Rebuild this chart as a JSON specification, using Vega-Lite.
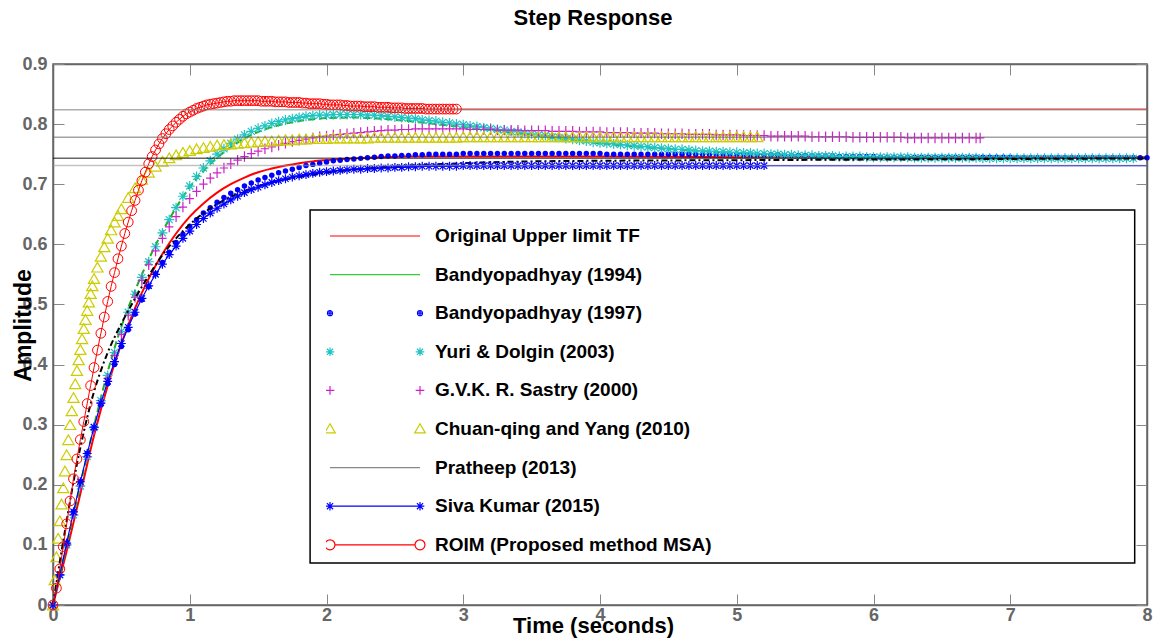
{
"$schema":"https://vega.github.io/schema/vega-lite/v6.json",
"width":1094,"height":541,
"autosize":"none",
"padding":{"left":53,"top":64,"right":18,"bottom":39},
"background":"white",
"config":{"font":"Liberation Sans","view":{"stroke":"#666","strokeWidth":1.5}},
"title":{"text":"Step Response","fontSize":22,"font":"Liberation Sans","fontWeight":"bold","color":"black","anchor":"middle","offset":8,"baseline":"alphabetic","frame":"group","dx":-7},
"resolve":{"axis":{"x":"independent","y":"independent"}},
"datasets":{
"ss":[{"k":"a","y":0.824},{"k":"b","y":0.778},{"k":"c","y":0.743},{"k":"d","y":0.731}],
"curves":[
{"s":"O","t":0,"y":0},{"s":"O","t":0.1,"y":0.09},{"s":"O","t":0.2,"y":0.185},{"s":"O","t":0.3,"y":0.282},{"s":"O","t":0.4,"y":0.365},{"s":"O","t":0.5,"y":0.435},{"s":"O","t":0.6,"y":0.494},{"s":"O","t":0.7,"y":0.543},{"s":"O","t":0.8,"y":0.584},{"s":"O","t":0.9,"y":0.618},{"s":"O","t":1.0,"y":0.646},{"s":"O","t":1.1,"y":0.668},{"s":"O","t":1.2,"y":0.686},{"s":"O","t":1.3,"y":0.7},{"s":"O","t":1.4,"y":0.711},{"s":"O","t":1.5,"y":0.72},{"s":"O","t":1.6,"y":0.726},{"s":"O","t":1.7,"y":0.731},{"s":"O","t":1.8,"y":0.735},{"s":"O","t":1.9,"y":0.738},{"s":"O","t":2.0,"y":0.74},{"s":"O","t":2.2,"y":0.743},{"s":"O","t":2.4,"y":0.745},{"s":"O","t":2.6,"y":0.746},{"s":"O","t":2.8,"y":0.746},{"s":"O","t":3,"y":0.746},{"s":"O","t":4,"y":0.746},{"s":"O","t":5,"y":0.745},{"s":"O","t":6,"y":0.745},{"s":"O","t":7,"y":0.745},{"s":"O","t":8,"y":0.745},
{"s":"G","t":0,"y":0},{"s":"G","t":0.1,"y":0.1},{"s":"G","t":0.2,"y":0.2},{"s":"G","t":0.3,"y":0.298},{"s":"G","t":0.4,"y":0.388},{"s":"G","t":0.5,"y":0.463},{"s":"G","t":0.6,"y":0.523},{"s":"G","t":0.7,"y":0.575},{"s":"G","t":0.8,"y":0.621},{"s":"G","t":0.9,"y":0.661},{"s":"G","t":1.0,"y":0.695},{"s":"G","t":1.1,"y":0.722},{"s":"G","t":1.2,"y":0.744},{"s":"G","t":1.3,"y":0.762},{"s":"G","t":1.4,"y":0.776},{"s":"G","t":1.5,"y":0.787},{"s":"G","t":1.6,"y":0.795},{"s":"G","t":1.7,"y":0.801},{"s":"G","t":1.8,"y":0.805},{"s":"G","t":1.9,"y":0.808},{"s":"G","t":2.0,"y":0.81},{"s":"G","t":2.2,"y":0.811},{"s":"G","t":2.4,"y":0.809},{"s":"G","t":2.6,"y":0.805},{"s":"G","t":2.8,"y":0.8},{"s":"G","t":3.0,"y":0.795},{"s":"G","t":3.2,"y":0.79},{"s":"G","t":3.4,"y":0.785},{"s":"G","t":3.6,"y":0.779},{"s":"G","t":3.8,"y":0.773},{"s":"G","t":4.0,"y":0.768},{"s":"G","t":4.3,"y":0.762},{"s":"G","t":4.6,"y":0.757},{"s":"G","t":5.0,"y":0.752},{"s":"G","t":5.5,"y":0.748},{"s":"G","t":6.0,"y":0.745},{"s":"G","t":6.5,"y":0.744},{"s":"G","t":7.0,"y":0.743},{"s":"G","t":8.0,"y":0.743},
{"s":"B","t":0,"y":0},{"s":"B","t":0.05,"y":0.05},{"s":"B","t":0.1,"y":0.103},{"s":"B","t":0.15,"y":0.155},{"s":"B","t":0.2,"y":0.205},{"s":"B","t":0.25,"y":0.252},{"s":"B","t":0.3,"y":0.295},{"s":"B","t":0.35,"y":0.333},{"s":"B","t":0.4,"y":0.368},{"s":"B","t":0.45,"y":0.4},{"s":"B","t":0.5,"y":0.43},{"s":"B","t":0.55,"y":0.458},{"s":"B","t":0.6,"y":0.484},{"s":"B","t":0.65,"y":0.508},{"s":"B","t":0.7,"y":0.53},{"s":"B","t":0.75,"y":0.551},{"s":"B","t":0.8,"y":0.57},{"s":"B","t":0.85,"y":0.587},{"s":"B","t":0.9,"y":0.603},{"s":"B","t":0.95,"y":0.617},
{"s":"B","t":1.0,"y":0.63},{"s":"B","t":1.05,"y":0.641},{"s":"B","t":1.1,"y":0.652},{"s":"B","t":1.15,"y":0.661},{"s":"B","t":1.2,"y":0.67},{"s":"B","t":1.25,"y":0.678},{"s":"B","t":1.3,"y":0.685},{"s":"B","t":1.35,"y":0.691},{"s":"B","t":1.4,"y":0.697},{"s":"B","t":1.45,"y":0.702},{"s":"B","t":1.5,"y":0.707},{"s":"B","t":1.55,"y":0.711},{"s":"B","t":1.6,"y":0.715},{"s":"B","t":1.65,"y":0.719},{"s":"B","t":1.7,"y":0.722},{"s":"B","t":1.75,"y":0.725},{"s":"B","t":1.8,"y":0.728},{"s":"B","t":1.85,"y":0.731},{"s":"B","t":1.9,"y":0.733},{"s":"B","t":1.95,"y":0.735},{"s":"B","t":2.0,"y":0.737},{"s":"B","t":2.05,"y":0.739},{"s":"B","t":2.1,"y":0.74},{"s":"B","t":2.15,"y":0.741},{"s":"B","t":2.2,"y":0.742},{"s":"B","t":2.25,"y":0.743},{"s":"B","t":2.3,"y":0.744},{"s":"B","t":2.35,"y":0.745},{"s":"B","t":2.4,"y":0.746},{"s":"B","t":2.45,"y":0.747},{"s":"B","t":2.5,"y":0.747},{"s":"B","t":2.55,"y":0.748},{"s":"B","t":2.6,"y":0.748},{"s":"B","t":2.65,"y":0.749},{"s":"B","t":2.7,"y":0.749},{"s":"B","t":2.75,"y":0.75},{"s":"B","t":2.8,"y":0.75},{"s":"B","t":2.85,"y":0.75},{"s":"B","t":2.9,"y":0.75},{"s":"B","t":2.95,"y":0.75},
{"s":"B","t":3.0,"y":0.751},{"s":"B","t":3.05,"y":0.751},{"s":"B","t":3.1,"y":0.751},{"s":"B","t":3.15,"y":0.751},{"s":"B","t":3.2,"y":0.751},{"s":"B","t":3.25,"y":0.751},{"s":"B","t":3.3,"y":0.751},{"s":"B","t":3.35,"y":0.751},{"s":"B","t":3.4,"y":0.751},{"s":"B","t":3.45,"y":0.751},{"s":"B","t":3.5,"y":0.751},{"s":"B","t":3.55,"y":0.751},{"s":"B","t":3.6,"y":0.751},{"s":"B","t":3.65,"y":0.751},{"s":"B","t":3.7,"y":0.751},{"s":"B","t":3.75,"y":0.751},{"s":"B","t":3.8,"y":0.751},{"s":"B","t":3.85,"y":0.751},{"s":"B","t":3.9,"y":0.751},{"s":"B","t":3.95,"y":0.751},{"s":"B","t":4.0,"y":0.751},
{"s":"B","t":4.05,"y":0.75},{"s":"B","t":4.1,"y":0.75},{"s":"B","t":4.15,"y":0.75},{"s":"B","t":4.2,"y":0.75},{"s":"B","t":4.25,"y":0.75},{"s":"B","t":4.3,"y":0.75},{"s":"B","t":4.35,"y":0.75},{"s":"B","t":4.4,"y":0.75},{"s":"B","t":4.45,"y":0.75},{"s":"B","t":4.5,"y":0.75},{"s":"B","t":4.55,"y":0.75},{"s":"B","t":4.6,"y":0.75},{"s":"B","t":4.65,"y":0.75},{"s":"B","t":4.7,"y":0.75},{"s":"B","t":4.75,"y":0.75},{"s":"B","t":4.8,"y":0.75},{"s":"B","t":4.85,"y":0.75},{"s":"B","t":4.9,"y":0.75},{"s":"B","t":4.95,"y":0.75},{"s":"B","t":5.0,"y":0.75},
{"s":"B","t":5.05,"y":0.749},{"s":"B","t":5.1,"y":0.749},{"s":"B","t":5.15,"y":0.749},{"s":"B","t":5.2,"y":0.749},{"s":"B","t":5.25,"y":0.749},{"s":"B","t":5.3,"y":0.749},{"s":"B","t":5.35,"y":0.748},{"s":"B","t":5.4,"y":0.748},{"s":"B","t":5.45,"y":0.748},{"s":"B","t":5.5,"y":0.748},{"s":"B","t":5.55,"y":0.747},{"s":"B","t":5.6,"y":0.747},{"s":"B","t":5.65,"y":0.747},{"s":"B","t":5.7,"y":0.747},{"s":"B","t":5.75,"y":0.746},{"s":"B","t":5.8,"y":0.746},{"s":"B","t":5.85,"y":0.746},{"s":"B","t":5.9,"y":0.746},{"s":"B","t":5.95,"y":0.746},{"s":"B","t":6.0,"y":0.746},
{"s":"B","t":6.05,"y":0.745},{"s":"B","t":6.1,"y":0.745},{"s":"B","t":6.15,"y":0.745},{"s":"B","t":6.2,"y":0.745},{"s":"B","t":6.25,"y":0.745},{"s":"B","t":6.3,"y":0.745},{"s":"B","t":6.35,"y":0.745},{"s":"B","t":6.4,"y":0.745},{"s":"B","t":6.45,"y":0.745},{"s":"B","t":6.5,"y":0.745},{"s":"B","t":6.55,"y":0.745},{"s":"B","t":6.6,"y":0.745},{"s":"B","t":6.65,"y":0.745},{"s":"B","t":6.7,"y":0.745},{"s":"B","t":6.75,"y":0.745},{"s":"B","t":6.8,"y":0.745},{"s":"B","t":6.85,"y":0.745},{"s":"B","t":6.9,"y":0.745},{"s":"B","t":6.95,"y":0.745},{"s":"B","t":7.0,"y":0.745},
{"s":"B","t":7.05,"y":0.744},{"s":"B","t":7.1,"y":0.744},{"s":"B","t":7.15,"y":0.744},{"s":"B","t":7.2,"y":0.744},{"s":"B","t":7.25,"y":0.744},{"s":"B","t":7.3,"y":0.744},{"s":"B","t":7.35,"y":0.744},{"s":"B","t":7.4,"y":0.744},{"s":"B","t":7.45,"y":0.744},{"s":"B","t":7.5,"y":0.744},{"s":"B","t":7.55,"y":0.744},{"s":"B","t":7.6,"y":0.744},{"s":"B","t":7.65,"y":0.744},{"s":"B","t":7.7,"y":0.744},{"s":"B","t":7.75,"y":0.744},{"s":"B","t":7.8,"y":0.744},{"s":"B","t":7.85,"y":0.744},{"s":"B","t":7.9,"y":0.744},{"s":"B","t":7.95,"y":0.744},{"s":"B","t":8.0,"y":0.744},
{"s":"Y","t":0,"y":0},{"s":"Y","t":0.05,"y":0.05},{"s":"Y","t":0.1,"y":0.1},{"s":"Y","t":0.15,"y":0.15},{"s":"Y","t":0.2,"y":0.198},{"s":"Y","t":0.25,"y":0.247},{"s":"Y","t":0.3,"y":0.295},{"s":"Y","t":0.35,"y":0.34},{"s":"Y","t":0.4,"y":0.382},{"s":"Y","t":0.45,"y":0.42},{"s":"Y","t":0.5,"y":0.455},{"s":"Y","t":0.55,"y":0.487},{"s":"Y","t":0.6,"y":0.517},{"s":"Y","t":0.65,"y":0.545},{"s":"Y","t":0.7,"y":0.571},{"s":"Y","t":0.75,"y":0.596},{"s":"Y","t":0.8,"y":0.619},{"s":"Y","t":0.85,"y":0.641},{"s":"Y","t":0.9,"y":0.661},{"s":"Y","t":0.95,"y":0.68},
{"s":"Y","t":1.0,"y":0.697},{"s":"Y","t":1.05,"y":0.713},{"s":"Y","t":1.1,"y":0.727},{"s":"Y","t":1.15,"y":0.739},{"s":"Y","t":1.2,"y":0.75},{"s":"Y","t":1.25,"y":0.759},{"s":"Y","t":1.3,"y":0.768},{"s":"Y","t":1.35,"y":0.775},{"s":"Y","t":1.4,"y":0.782},{"s":"Y","t":1.45,"y":0.788},{"s":"Y","t":1.5,"y":0.793},{"s":"Y","t":1.55,"y":0.797},{"s":"Y","t":1.6,"y":0.801},{"s":"Y","t":1.65,"y":0.804},{"s":"Y","t":1.7,"y":0.807},{"s":"Y","t":1.75,"y":0.809},{"s":"Y","t":1.8,"y":0.811},{"s":"Y","t":1.85,"y":0.813},{"s":"Y","t":1.9,"y":0.814},{"s":"Y","t":1.95,"y":0.815},
{"s":"Y","t":2.0,"y":0.815},{"s":"Y","t":2.05,"y":0.816},{"s":"Y","t":2.1,"y":0.816},{"s":"Y","t":2.15,"y":0.816},{"s":"Y","t":2.2,"y":0.816},{"s":"Y","t":2.25,"y":0.816},{"s":"Y","t":2.3,"y":0.815},{"s":"Y","t":2.35,"y":0.815},{"s":"Y","t":2.4,"y":0.814},{"s":"Y","t":2.45,"y":0.813},{"s":"Y","t":2.5,"y":0.812},{"s":"Y","t":2.55,"y":0.811},{"s":"Y","t":2.6,"y":0.81},{"s":"Y","t":2.65,"y":0.809},{"s":"Y","t":2.7,"y":0.807},{"s":"Y","t":2.75,"y":0.806},{"s":"Y","t":2.8,"y":0.805},{"s":"Y","t":2.85,"y":0.803},{"s":"Y","t":2.9,"y":0.802},{"s":"Y","t":2.95,"y":0.8},
{"s":"Y","t":3.0,"y":0.799},{"s":"Y","t":3.05,"y":0.797},{"s":"Y","t":3.1,"y":0.796},{"s":"Y","t":3.15,"y":0.794},{"s":"Y","t":3.2,"y":0.793},{"s":"Y","t":3.25,"y":0.791},{"s":"Y","t":3.3,"y":0.79},{"s":"Y","t":3.35,"y":0.788},{"s":"Y","t":3.4,"y":0.787},{"s":"Y","t":3.45,"y":0.785},{"s":"Y","t":3.5,"y":0.784},{"s":"Y","t":3.55,"y":0.782},{"s":"Y","t":3.6,"y":0.781},{"s":"Y","t":3.65,"y":0.779},{"s":"Y","t":3.7,"y":0.778},{"s":"Y","t":3.75,"y":0.776},{"s":"Y","t":3.8,"y":0.775},{"s":"Y","t":3.85,"y":0.773},{"s":"Y","t":3.9,"y":0.772},{"s":"Y","t":3.95,"y":0.77},
{"s":"Y","t":4.0,"y":0.769},{"s":"Y","t":4.05,"y":0.768},{"s":"Y","t":4.1,"y":0.767},{"s":"Y","t":4.15,"y":0.766},{"s":"Y","t":4.2,"y":0.765},{"s":"Y","t":4.25,"y":0.764},{"s":"Y","t":4.3,"y":0.763},{"s":"Y","t":4.35,"y":0.762},{"s":"Y","t":4.4,"y":0.761},{"s":"Y","t":4.45,"y":0.76},{"s":"Y","t":4.5,"y":0.759},{"s":"Y","t":4.55,"y":0.758},{"s":"Y","t":4.6,"y":0.758},{"s":"Y","t":4.65,"y":0.757},{"s":"Y","t":4.7,"y":0.756},{"s":"Y","t":4.75,"y":0.755},{"s":"Y","t":4.8,"y":0.755},{"s":"Y","t":4.85,"y":0.754},{"s":"Y","t":4.9,"y":0.754},{"s":"Y","t":4.95,"y":0.753},
{"s":"Y","t":5.0,"y":0.753},{"s":"Y","t":5.05,"y":0.752},{"s":"Y","t":5.1,"y":0.752},{"s":"Y","t":5.15,"y":0.751},{"s":"Y","t":5.2,"y":0.751},{"s":"Y","t":5.25,"y":0.75},{"s":"Y","t":5.3,"y":0.75},{"s":"Y","t":5.35,"y":0.749},{"s":"Y","t":5.4,"y":0.749},{"s":"Y","t":5.45,"y":0.748},{"s":"Y","t":5.5,"y":0.748},{"s":"Y","t":5.55,"y":0.748},{"s":"Y","t":5.6,"y":0.747},{"s":"Y","t":5.65,"y":0.747},{"s":"Y","t":5.7,"y":0.747},{"s":"Y","t":5.75,"y":0.746},{"s":"Y","t":5.8,"y":0.746},{"s":"Y","t":5.85,"y":0.746},{"s":"Y","t":5.9,"y":0.746},{"s":"Y","t":5.95,"y":0.745},
{"s":"Y","t":6.0,"y":0.745},{"s":"Y","t":6.05,"y":0.745},{"s":"Y","t":6.1,"y":0.745},{"s":"Y","t":6.15,"y":0.745},{"s":"Y","t":6.2,"y":0.745},{"s":"Y","t":6.25,"y":0.745},{"s":"Y","t":6.3,"y":0.744},{"s":"Y","t":6.35,"y":0.744},{"s":"Y","t":6.4,"y":0.744},{"s":"Y","t":6.45,"y":0.744},{"s":"Y","t":6.5,"y":0.744},{"s":"Y","t":6.55,"y":0.744},{"s":"Y","t":6.6,"y":0.744},{"s":"Y","t":6.65,"y":0.744},{"s":"Y","t":6.7,"y":0.744},{"s":"Y","t":6.75,"y":0.744},{"s":"Y","t":6.8,"y":0.743},{"s":"Y","t":6.85,"y":0.743},{"s":"Y","t":6.9,"y":0.743},{"s":"Y","t":6.95,"y":0.743},
{"s":"Y","t":7.0,"y":0.743},{"s":"Y","t":7.05,"y":0.743},{"s":"Y","t":7.1,"y":0.743},{"s":"Y","t":7.15,"y":0.743},{"s":"Y","t":7.2,"y":0.743},{"s":"Y","t":7.25,"y":0.743},{"s":"Y","t":7.3,"y":0.743},{"s":"Y","t":7.35,"y":0.743},{"s":"Y","t":7.4,"y":0.743},{"s":"Y","t":7.45,"y":0.743},{"s":"Y","t":7.5,"y":0.743},{"s":"Y","t":7.55,"y":0.743},{"s":"Y","t":7.6,"y":0.743},{"s":"Y","t":7.65,"y":0.743},{"s":"Y","t":7.7,"y":0.743},{"s":"Y","t":7.75,"y":0.743},{"s":"Y","t":7.8,"y":0.743},{"s":"Y","t":7.85,"y":0.743},{"s":"Y","t":7.9,"y":0.743},
{"s":"S","t":0,"y":0},{"s":"S","t":0.05,"y":0.05},{"s":"S","t":0.1,"y":0.1},{"s":"S","t":0.15,"y":0.15},{"s":"S","t":0.2,"y":0.198},{"s":"S","t":0.25,"y":0.246},{"s":"S","t":0.3,"y":0.292},{"s":"S","t":0.35,"y":0.336},{"s":"S","t":0.4,"y":0.377},{"s":"S","t":0.45,"y":0.415},{"s":"S","t":0.5,"y":0.45},{"s":"S","t":0.55,"y":0.482},{"s":"S","t":0.6,"y":0.512},{"s":"S","t":0.65,"y":0.54},{"s":"S","t":0.7,"y":0.566},{"s":"S","t":0.75,"y":0.589},{"s":"S","t":0.8,"y":0.61},{"s":"S","t":0.85,"y":0.629},{"s":"S","t":0.9,"y":0.646},{"s":"S","t":0.95,"y":0.662},
{"s":"S","t":1.0,"y":0.676},{"s":"S","t":1.05,"y":0.688},{"s":"S","t":1.1,"y":0.7},{"s":"S","t":1.15,"y":0.71},{"s":"S","t":1.2,"y":0.719},{"s":"S","t":1.25,"y":0.727},{"s":"S","t":1.3,"y":0.734},{"s":"S","t":1.35,"y":0.74},{"s":"S","t":1.4,"y":0.746},{"s":"S","t":1.45,"y":0.751},{"s":"S","t":1.5,"y":0.755},{"s":"S","t":1.55,"y":0.759},{"s":"S","t":1.6,"y":0.762},{"s":"S","t":1.65,"y":0.765},{"s":"S","t":1.7,"y":0.768},{"s":"S","t":1.75,"y":0.771},{"s":"S","t":1.8,"y":0.773},{"s":"S","t":1.85,"y":0.775},{"s":"S","t":1.9,"y":0.777},{"s":"S","t":1.95,"y":0.779},
{"s":"S","t":2.0,"y":0.78},{"s":"S","t":2.05,"y":0.782},{"s":"S","t":2.1,"y":0.783},{"s":"S","t":2.15,"y":0.784},{"s":"S","t":2.2,"y":0.785},{"s":"S","t":2.25,"y":0.786},{"s":"S","t":2.3,"y":0.787},{"s":"S","t":2.35,"y":0.788},{"s":"S","t":2.4,"y":0.789},{"s":"S","t":2.45,"y":0.79},{"s":"S","t":2.5,"y":0.79},{"s":"S","t":2.55,"y":0.791},{"s":"S","t":2.6,"y":0.791},{"s":"S","t":2.65,"y":0.792},{"s":"S","t":2.7,"y":0.792},{"s":"S","t":2.75,"y":0.792},{"s":"S","t":2.8,"y":0.792},{"s":"S","t":2.85,"y":0.792},{"s":"S","t":2.9,"y":0.792},{"s":"S","t":2.95,"y":0.792},
{"s":"S","t":3.0,"y":0.792},{"s":"S","t":3.05,"y":0.791},{"s":"S","t":3.1,"y":0.791},{"s":"S","t":3.15,"y":0.791},{"s":"S","t":3.2,"y":0.791},{"s":"S","t":3.25,"y":0.79},{"s":"S","t":3.3,"y":0.79},{"s":"S","t":3.35,"y":0.79},{"s":"S","t":3.4,"y":0.79},{"s":"S","t":3.45,"y":0.789},{"s":"S","t":3.5,"y":0.789},{"s":"S","t":3.55,"y":0.789},{"s":"S","t":3.6,"y":0.789},{"s":"S","t":3.65,"y":0.788},{"s":"S","t":3.7,"y":0.788},{"s":"S","t":3.75,"y":0.788},{"s":"S","t":3.8,"y":0.788},{"s":"S","t":3.85,"y":0.787},{"s":"S","t":3.9,"y":0.787},{"s":"S","t":3.95,"y":0.787},
{"s":"S","t":4.0,"y":0.787},{"s":"S","t":4.05,"y":0.786},{"s":"S","t":4.1,"y":0.786},{"s":"S","t":4.15,"y":0.786},{"s":"S","t":4.2,"y":0.786},{"s":"S","t":4.25,"y":0.785},{"s":"S","t":4.3,"y":0.785},{"s":"S","t":4.35,"y":0.785},{"s":"S","t":4.4,"y":0.785},{"s":"S","t":4.45,"y":0.784},{"s":"S","t":4.5,"y":0.784},{"s":"S","t":4.55,"y":0.784},{"s":"S","t":4.6,"y":0.784},{"s":"S","t":4.65,"y":0.783},{"s":"S","t":4.7,"y":0.783},{"s":"S","t":4.75,"y":0.783},{"s":"S","t":4.8,"y":0.783},{"s":"S","t":4.85,"y":0.782},{"s":"S","t":4.9,"y":0.782},{"s":"S","t":4.95,"y":0.782},
{"s":"S","t":5.0,"y":0.782},{"s":"S","t":5.05,"y":0.781},{"s":"S","t":5.1,"y":0.781},{"s":"S","t":5.15,"y":0.781},{"s":"S","t":5.2,"y":0.781},{"s":"S","t":5.25,"y":0.78},{"s":"S","t":5.3,"y":0.78},{"s":"S","t":5.35,"y":0.78},{"s":"S","t":5.4,"y":0.78},{"s":"S","t":5.45,"y":0.78},{"s":"S","t":5.5,"y":0.78},{"s":"S","t":5.55,"y":0.779},{"s":"S","t":5.6,"y":0.779},{"s":"S","t":5.65,"y":0.779},{"s":"S","t":5.7,"y":0.779},{"s":"S","t":5.75,"y":0.779},{"s":"S","t":5.8,"y":0.779},{"s":"S","t":5.85,"y":0.778},{"s":"S","t":5.9,"y":0.778},{"s":"S","t":5.95,"y":0.778},
{"s":"S","t":6.0,"y":0.778},{"s":"S","t":6.05,"y":0.778},{"s":"S","t":6.1,"y":0.778},{"s":"S","t":6.15,"y":0.778},{"s":"S","t":6.2,"y":0.778},{"s":"S","t":6.25,"y":0.777},{"s":"S","t":6.3,"y":0.777},{"s":"S","t":6.35,"y":0.777},{"s":"S","t":6.4,"y":0.777},{"s":"S","t":6.45,"y":0.777},{"s":"S","t":6.5,"y":0.777},{"s":"S","t":6.55,"y":0.777},{"s":"S","t":6.6,"y":0.777},{"s":"S","t":6.65,"y":0.777},{"s":"S","t":6.7,"y":0.777},{"s":"S","t":6.75,"y":0.777},{"s":"S","t":6.78,"y":0.777},
{"s":"C","t":0,"y":0},{"s":"C","t":0.0125,"y":0.042},{"s":"C","t":0.025,"y":0.08},{"s":"C","t":0.0375,"y":0.111},{"s":"C","t":0.05,"y":0.14},{"s":"C","t":0.0625,"y":0.168},{"s":"C","t":0.075,"y":0.195},{"s":"C","t":0.0875,"y":0.223},{"s":"C","t":0.1,"y":0.25},{"s":"C","t":0.1125,"y":0.275},{"s":"C","t":0.125,"y":0.3},{"s":"C","t":0.1375,"y":0.323},{"s":"C","t":0.15,"y":0.345},{"s":"C","t":0.1625,"y":0.368},{"s":"C","t":0.175,"y":0.39},{"s":"C","t":0.1875,"y":0.408},{"s":"C","t":0.2,"y":0.425},{"s":"C","t":0.2125,"y":0.443},{"s":"C","t":0.225,"y":0.46},{"s":"C","t":0.2375,"y":0.475},{"s":"C","t":0.25,"y":0.49},{"s":"C","t":0.2625,"y":0.504},{"s":"C","t":0.275,"y":0.518},{"s":"C","t":0.2875,"y":0.531},{"s":"C","t":0.3,"y":0.543},{"s":"C","t":0.325,"y":0.562},{"s":"C","t":0.35,"y":0.58},{"s":"C","t":0.375,"y":0.596},{"s":"C","t":0.4,"y":0.61},{"s":"C","t":0.425,"y":0.624},{"s":"C","t":0.45,"y":0.637},{"s":"C","t":0.475,"y":0.648},{"s":"C","t":0.5,"y":0.659},{"s":"C","t":0.55,"y":0.678},{"s":"C","t":0.6,"y":0.694},{"s":"C","t":0.65,"y":0.708},{"s":"C","t":0.7,"y":0.72},{"s":"C","t":0.75,"y":0.73},{"s":"C","t":0.8,"y":0.738},{"s":"C","t":0.85,"y":0.744},{"s":"C","t":0.9,"y":0.749},{"s":"C","t":0.95,"y":0.753},{"s":"C","t":1.0,"y":0.756},{"s":"C","t":1.05,"y":0.759},{"s":"C","t":1.1,"y":0.761},{"s":"C","t":1.15,"y":0.763},{"s":"C","t":1.2,"y":0.765},{"s":"C","t":1.25,"y":0.766},{"s":"C","t":1.3,"y":0.767},{"s":"C","t":1.35,"y":0.768},{"s":"C","t":1.4,"y":0.769},{"s":"C","t":1.45,"y":0.77},{"s":"C","t":1.5,"y":0.771},{"s":"C","t":1.55,"y":0.772},{"s":"C","t":1.6,"y":0.772},{"s":"C","t":1.65,"y":0.773},{"s":"C","t":1.7,"y":0.774},{"s":"C","t":1.75,"y":0.774},{"s":"C","t":1.8,"y":0.775},{"s":"C","t":1.85,"y":0.775},{"s":"C","t":1.9,"y":0.776},{"s":"C","t":1.95,"y":0.776},{"s":"C","t":2.0,"y":0.776},{"s":"C","t":2.05,"y":0.777},{"s":"C","t":2.1,"y":0.777},{"s":"C","t":2.15,"y":0.777},{"s":"C","t":2.2,"y":0.777},{"s":"C","t":2.25,"y":0.777},{"s":"C","t":2.3,"y":0.777},{"s":"C","t":2.35,"y":0.778},{"s":"C","t":2.4,"y":0.778},{"s":"C","t":2.45,"y":0.778},{"s":"C","t":2.5,"y":0.778},{"s":"C","t":2.55,"y":0.778},{"s":"C","t":2.6,"y":0.778},{"s":"C","t":2.65,"y":0.778},{"s":"C","t":2.7,"y":0.778},{"s":"C","t":2.75,"y":0.778},{"s":"C","t":2.8,"y":0.778},{"s":"C","t":2.85,"y":0.778},{"s":"C","t":2.9,"y":0.778},{"s":"C","t":2.95,"y":0.778},{"s":"C","t":3.0,"y":0.779},{"s":"C","t":3.05,"y":0.779},{"s":"C","t":3.1,"y":0.779},{"s":"C","t":3.15,"y":0.779},{"s":"C","t":3.2,"y":0.779},{"s":"C","t":3.25,"y":0.779},{"s":"C","t":3.3,"y":0.779},{"s":"C","t":3.35,"y":0.779},{"s":"C","t":3.4,"y":0.779},{"s":"C","t":3.45,"y":0.779},{"s":"C","t":3.5,"y":0.779},{"s":"C","t":3.55,"y":0.779},{"s":"C","t":3.6,"y":0.779},{"s":"C","t":3.65,"y":0.779},{"s":"C","t":3.7,"y":0.779},{"s":"C","t":3.75,"y":0.779},{"s":"C","t":3.8,"y":0.779},{"s":"C","t":3.85,"y":0.779},{"s":"C","t":3.9,"y":0.779},{"s":"C","t":3.95,"y":0.779},{"s":"C","t":4.0,"y":0.779},{"s":"C","t":4.05,"y":0.779},{"s":"C","t":4.1,"y":0.779},{"s":"C","t":4.15,"y":0.779},{"s":"C","t":4.2,"y":0.779},{"s":"C","t":4.25,"y":0.779},{"s":"C","t":4.3,"y":0.779},{"s":"C","t":4.35,"y":0.779},{"s":"C","t":4.4,"y":0.779},{"s":"C","t":4.45,"y":0.779},{"s":"C","t":4.5,"y":0.779},{"s":"C","t":4.55,"y":0.779},{"s":"C","t":4.6,"y":0.779},{"s":"C","t":4.65,"y":0.779},{"s":"C","t":4.7,"y":0.779},{"s":"C","t":4.75,"y":0.779},{"s":"C","t":4.8,"y":0.779},{"s":"C","t":4.85,"y":0.779},{"s":"C","t":4.9,"y":0.779},{"s":"C","t":4.95,"y":0.779},{"s":"C","t":5.0,"y":0.779},{"s":"C","t":5.05,"y":0.779},{"s":"C","t":5.1,"y":0.779},{"s":"C","t":5.15,"y":0.779},
{"s":"P","t":0,"y":0},{"s":"P","t":0.05,"y":0.072},{"s":"P","t":0.1,"y":0.14},{"s":"P","t":0.15,"y":0.205},{"s":"P","t":0.2,"y":0.262},{"s":"P","t":0.25,"y":0.312},{"s":"P","t":0.3,"y":0.355},{"s":"P","t":0.35,"y":0.39},{"s":"P","t":0.4,"y":0.42},{"s":"P","t":0.5,"y":0.468},{"s":"P","t":0.6,"y":0.51},{"s":"P","t":0.7,"y":0.548},{"s":"P","t":0.8,"y":0.582},{"s":"P","t":0.9,"y":0.61},{"s":"P","t":1.0,"y":0.633},{"s":"P","t":1.1,"y":0.652},{"s":"P","t":1.2,"y":0.667},{"s":"P","t":1.3,"y":0.679},{"s":"P","t":1.4,"y":0.689},{"s":"P","t":1.5,"y":0.697},{"s":"P","t":1.6,"y":0.703},{"s":"P","t":1.7,"y":0.708},{"s":"P","t":1.8,"y":0.712},{"s":"P","t":2.0,"y":0.719},{"s":"P","t":2.2,"y":0.724},{"s":"P","t":2.4,"y":0.728},{"s":"P","t":2.6,"y":0.731},{"s":"P","t":2.8,"y":0.733},{"s":"P","t":3.0,"y":0.735},{"s":"P","t":3.5,"y":0.738},{"s":"P","t":4.0,"y":0.739},{"s":"P","t":5.0,"y":0.74},{"s":"P","t":6.0,"y":0.741},{"s":"P","t":7.0,"y":0.742},{"s":"P","t":8.0,"y":0.743},
{"s":"K","t":0,"y":0},{"s":"K","t":0.05,"y":0.05},{"s":"K","t":0.1,"y":0.103},{"s":"K","t":0.15,"y":0.155},{"s":"K","t":0.2,"y":0.205},{"s":"K","t":0.25,"y":0.252},{"s":"K","t":0.3,"y":0.296},{"s":"K","t":0.35,"y":0.336},{"s":"K","t":0.4,"y":0.372},{"s":"K","t":0.45,"y":0.405},{"s":"K","t":0.5,"y":0.435},{"s":"K","t":0.55,"y":0.462},{"s":"K","t":0.6,"y":0.487},{"s":"K","t":0.65,"y":0.51},{"s":"K","t":0.7,"y":0.531},{"s":"K","t":0.75,"y":0.55},{"s":"K","t":0.8,"y":0.567},{"s":"K","t":0.85,"y":0.583},{"s":"K","t":0.9,"y":0.597},{"s":"K","t":0.95,"y":0.61},
{"s":"K","t":1.0,"y":0.622},{"s":"K","t":1.05,"y":0.633},{"s":"K","t":1.1,"y":0.643},{"s":"K","t":1.15,"y":0.652},{"s":"K","t":1.2,"y":0.66},{"s":"K","t":1.25,"y":0.667},{"s":"K","t":1.3,"y":0.674},{"s":"K","t":1.35,"y":0.68},{"s":"K","t":1.4,"y":0.686},{"s":"K","t":1.45,"y":0.691},{"s":"K","t":1.5,"y":0.695},{"s":"K","t":1.55,"y":0.699},{"s":"K","t":1.6,"y":0.703},{"s":"K","t":1.65,"y":0.706},{"s":"K","t":1.7,"y":0.709},{"s":"K","t":1.75,"y":0.712},{"s":"K","t":1.8,"y":0.714},{"s":"K","t":1.85,"y":0.716},{"s":"K","t":1.9,"y":0.718},{"s":"K","t":1.95,"y":0.72},
{"s":"K","t":2.0,"y":0.721},{"s":"K","t":2.05,"y":0.722},{"s":"K","t":2.1,"y":0.723},{"s":"K","t":2.15,"y":0.724},{"s":"K","t":2.2,"y":0.725},{"s":"K","t":2.25,"y":0.725},{"s":"K","t":2.3,"y":0.726},{"s":"K","t":2.35,"y":0.726},{"s":"K","t":2.4,"y":0.727},{"s":"K","t":2.45,"y":0.727},{"s":"K","t":2.5,"y":0.728},{"s":"K","t":2.55,"y":0.728},{"s":"K","t":2.6,"y":0.729},{"s":"K","t":2.65,"y":0.729},{"s":"K","t":2.7,"y":0.73},{"s":"K","t":2.75,"y":0.73},{"s":"K","t":2.8,"y":0.73},{"s":"K","t":2.85,"y":0.73},{"s":"K","t":2.9,"y":0.73},{"s":"K","t":2.95,"y":0.73},
{"s":"K","t":3.0,"y":0.731},{"s":"K","t":3.05,"y":0.731},{"s":"K","t":3.1,"y":0.731},{"s":"K","t":3.15,"y":0.731},{"s":"K","t":3.2,"y":0.731},{"s":"K","t":3.25,"y":0.731},{"s":"K","t":3.3,"y":0.731},{"s":"K","t":3.35,"y":0.731},{"s":"K","t":3.4,"y":0.731},{"s":"K","t":3.45,"y":0.731},{"s":"K","t":3.5,"y":0.731},{"s":"K","t":3.55,"y":0.731},{"s":"K","t":3.6,"y":0.731},{"s":"K","t":3.65,"y":0.731},{"s":"K","t":3.7,"y":0.731},{"s":"K","t":3.75,"y":0.731},{"s":"K","t":3.8,"y":0.731},{"s":"K","t":3.85,"y":0.731},{"s":"K","t":3.9,"y":0.731},{"s":"K","t":3.95,"y":0.731},
{"s":"K","t":4.0,"y":0.731},{"s":"K","t":4.05,"y":0.731},{"s":"K","t":4.1,"y":0.731},{"s":"K","t":4.15,"y":0.731},{"s":"K","t":4.2,"y":0.731},{"s":"K","t":4.25,"y":0.731},{"s":"K","t":4.3,"y":0.731},{"s":"K","t":4.35,"y":0.731},{"s":"K","t":4.4,"y":0.731},{"s":"K","t":4.45,"y":0.731},{"s":"K","t":4.5,"y":0.731},{"s":"K","t":4.55,"y":0.731},{"s":"K","t":4.6,"y":0.731},{"s":"K","t":4.65,"y":0.731},{"s":"K","t":4.7,"y":0.731},{"s":"K","t":4.75,"y":0.731},{"s":"K","t":4.8,"y":0.731},{"s":"K","t":4.85,"y":0.731},{"s":"K","t":4.9,"y":0.731},{"s":"K","t":4.95,"y":0.731},
{"s":"K","t":5.0,"y":0.731},{"s":"K","t":5.05,"y":0.731},{"s":"K","t":5.1,"y":0.731},{"s":"K","t":5.15,"y":0.731},{"s":"K","t":5.2,"y":0.731},{"s":"K","t":8.0,"y":0.731},
{"s":"R","t":0,"y":0},{"s":"R","t":0.025,"y":0.028},{"s":"R","t":0.05,"y":0.06},{"s":"R","t":0.075,"y":0.097},{"s":"R","t":0.1,"y":0.135},{"s":"R","t":0.125,"y":0.173},{"s":"R","t":0.15,"y":0.21},{"s":"R","t":0.175,"y":0.243},{"s":"R","t":0.2,"y":0.275},{"s":"R","t":0.225,"y":0.305},{"s":"R","t":0.25,"y":0.335},{"s":"R","t":0.275,"y":0.365},{"s":"R","t":0.3,"y":0.395},{"s":"R","t":0.325,"y":0.424},{"s":"R","t":0.35,"y":0.452},{"s":"R","t":0.375,"y":0.479},{"s":"R","t":0.4,"y":0.505},{"s":"R","t":0.425,"y":0.53},{"s":"R","t":0.45,"y":0.553},{"s":"R","t":0.475,"y":0.576},
{"s":"R","t":0.5,"y":0.597},{"s":"R","t":0.525,"y":0.618},{"s":"R","t":0.55,"y":0.637},{"s":"R","t":0.575,"y":0.656},{"s":"R","t":0.6,"y":0.673},{"s":"R","t":0.625,"y":0.69},{"s":"R","t":0.65,"y":0.706},{"s":"R","t":0.675,"y":0.72},{"s":"R","t":0.7,"y":0.734},{"s":"R","t":0.725,"y":0.746},{"s":"R","t":0.75,"y":0.757},{"s":"R","t":0.775,"y":0.767},{"s":"R","t":0.8,"y":0.776},{"s":"R","t":0.825,"y":0.784},{"s":"R","t":0.85,"y":0.791},{"s":"R","t":0.875,"y":0.797},{"s":"R","t":0.9,"y":0.803},{"s":"R","t":0.925,"y":0.808},{"s":"R","t":0.95,"y":0.813},{"s":"R","t":0.975,"y":0.817},
{"s":"R","t":1.0,"y":0.82},{"s":"R","t":1.025,"y":0.823},{"s":"R","t":1.05,"y":0.826},{"s":"R","t":1.075,"y":0.828},{"s":"R","t":1.1,"y":0.83},{"s":"R","t":1.125,"y":0.832},{"s":"R","t":1.15,"y":0.833},{"s":"R","t":1.175,"y":0.834},{"s":"R","t":1.2,"y":0.835},{"s":"R","t":1.225,"y":0.836},{"s":"R","t":1.25,"y":0.837},{"s":"R","t":1.275,"y":0.838},{"s":"R","t":1.3,"y":0.838},{"s":"R","t":1.325,"y":0.839},{"s":"R","t":1.35,"y":0.839},{"s":"R","t":1.375,"y":0.839},{"s":"R","t":1.4,"y":0.839},{"s":"R","t":1.425,"y":0.839},{"s":"R","t":1.45,"y":0.839},{"s":"R","t":1.475,"y":0.839},
{"s":"R","t":1.5,"y":0.839},{"s":"R","t":1.525,"y":0.838},{"s":"R","t":1.55,"y":0.838},{"s":"R","t":1.575,"y":0.838},{"s":"R","t":1.6,"y":0.838},{"s":"R","t":1.625,"y":0.837},{"s":"R","t":1.65,"y":0.837},{"s":"R","t":1.675,"y":0.837},{"s":"R","t":1.7,"y":0.837},{"s":"R","t":1.725,"y":0.836},{"s":"R","t":1.75,"y":0.836},{"s":"R","t":1.775,"y":0.836},{"s":"R","t":1.8,"y":0.836},{"s":"R","t":1.825,"y":0.835},{"s":"R","t":1.85,"y":0.835},{"s":"R","t":1.875,"y":0.834},{"s":"R","t":1.9,"y":0.834},{"s":"R","t":1.925,"y":0.834},{"s":"R","t":1.95,"y":0.834},{"s":"R","t":1.975,"y":0.833},
{"s":"R","t":2.0,"y":0.833},{"s":"R","t":2.025,"y":0.832},{"s":"R","t":2.05,"y":0.832},{"s":"R","t":2.075,"y":0.832},{"s":"R","t":2.1,"y":0.832},{"s":"R","t":2.125,"y":0.831},{"s":"R","t":2.15,"y":0.831},{"s":"R","t":2.175,"y":0.83},{"s":"R","t":2.2,"y":0.83},{"s":"R","t":2.225,"y":0.83},{"s":"R","t":2.25,"y":0.83},{"s":"R","t":2.275,"y":0.829},{"s":"R","t":2.3,"y":0.829},{"s":"R","t":2.325,"y":0.829},{"s":"R","t":2.35,"y":0.829},{"s":"R","t":2.375,"y":0.828},{"s":"R","t":2.4,"y":0.828},{"s":"R","t":2.425,"y":0.828},{"s":"R","t":2.45,"y":0.828},{"s":"R","t":2.475,"y":0.827},
{"s":"R","t":2.5,"y":0.827},{"s":"R","t":2.525,"y":0.827},{"s":"R","t":2.55,"y":0.827},{"s":"R","t":2.575,"y":0.826},{"s":"R","t":2.6,"y":0.826},{"s":"R","t":2.625,"y":0.826},{"s":"R","t":2.65,"y":0.826},{"s":"R","t":2.675,"y":0.826},{"s":"R","t":2.7,"y":0.826},{"s":"R","t":2.725,"y":0.825},{"s":"R","t":2.75,"y":0.825},{"s":"R","t":2.775,"y":0.825},{"s":"R","t":2.8,"y":0.825},{"s":"R","t":2.825,"y":0.825},{"s":"R","t":2.85,"y":0.825},{"s":"R","t":2.875,"y":0.825},{"s":"R","t":2.9,"y":0.825},{"s":"R","t":2.925,"y":0.825},{"s":"R","t":2.95,"y":0.825},{"s":"R","t":8.0,"y":0.825}
]},
"layer":[
{"data":{"name":"curves"},"transform":[{"filter":"datum.s=='O'"}],
 "mark":{"type":"line","color":"#ff0000","strokeWidth":2,"interpolate":"monotone"},
 "encoding":{
  "x":{"field":"t","type":"quantitative","scale":{"domain":[0,8],"nice":false,"zero":false},
   "axis":{"orient":"bottom","values":[0,1,2,3,4,5,6,7,8],"format":"d","grid":false,"title":"Time (seconds)","titleFont":"Liberation Sans","titleFontSize":22,"titleFontWeight":"bold","titleColor":"black","titleX":540,"titleY":27,"titleBaseline":"alphabetic","labelFont":"Liberation Sans","labelFontSize":18,"labelFontWeight":"bold","labelColor":"#666","labelFlush":false,"labelOverlap":false,"tickSize":-11,"tickColor":"#888","tickWidth":1,"labelPadding":12,"domainColor":"#666","domainWidth":1.5}},
  "y":{"field":"y","type":"quantitative","scale":{"domain":[0,0.9],"nice":false,"zero":false},
   "axis":{"orient":"left","values":[0,0.1,0.2,0.3,0.4,0.5,0.6,0.7,0.8,0.9],"format":".1~f","grid":false,"title":"Amplitude","titleFont":"Liberation Sans","titleFontSize":23,"titleFontWeight":"bold","titleColor":"black","titleX":-23,"titleY":261,"titleAngle":270,"titleBaseline":"alphabetic","labelFont":"Liberation Sans","labelFontSize":18,"labelFontWeight":"bold","labelColor":"#666","labelFlush":false,"labelOverlap":false,"tickSize":-11,"tickColor":"#888","tickWidth":1,"labelPadding":17,"domainColor":"#666","domainWidth":1.5}}}},
{"data":{"name":"curves"},"transform":[{"filter":"datum.s=='G'"}],
 "mark":{"type":"line","color":"#22aa22","strokeWidth":2,"strokeDash":[7,4],"interpolate":"monotone"},
 "encoding":{
  "x":{"field":"t","type":"quantitative","axis":{"orient":"top","values":[0,1,2,3,4,5,6,7,8],"labels":false,"title":null,"grid":false,"tickSize":-11,"tickColor":"#888","domainColor":"#666","domainWidth":1.5}},
  "y":{"field":"y","type":"quantitative","axis":{"orient":"right","values":[0,0.1,0.2,0.3,0.4,0.5,0.6,0.7,0.8,0.9],"labels":false,"title":null,"grid":false,"tickSize":-11,"tickColor":"#888","domainColor":"#666","domainWidth":1.5}}}},
{"data":{"name":"curves"},"transform":[{"filter":"datum.s=='B'"}],
 "mark":{"type":"point","shape":"circle","filled":true,"color":"#0000ff","size":30,"opacity":1},
 "encoding":{"x":{"field":"t","type":"quantitative","axis":null},"y":{"field":"y","type":"quantitative","axis":null}}},
{"data":{"name":"curves"},"transform":[{"filter":"datum.s=='Y'"}],
 "mark":{"type":"point","shape":"M-1,0H1M0,-1V1M-0.7,-0.7L0.7,0.7M-0.7,0.7L0.7,-0.7","filled":false,"color":"#20c4c4","size":100,"strokeWidth":1.2,"opacity":1},
 "encoding":{"x":{"field":"t","type":"quantitative","axis":null},"y":{"field":"y","type":"quantitative","axis":null}}},
{"data":{"name":"curves"},"transform":[{"filter":"datum.s=='S'"}],
 "mark":{"type":"point","shape":"M-0.8,0H0.8M0,-1V1","filled":false,"color":"#cc22cc","size":110,"strokeWidth":1.2,"opacity":1},
 "encoding":{"x":{"field":"t","type":"quantitative","axis":null},"y":{"field":"y","type":"quantitative","axis":null}}},
{"data":{"name":"curves"},"transform":[{"filter":"datum.s=='C'"}],
 "mark":{"type":"point","shape":"triangle-up","filled":false,"color":"#cccc00","size":125,"strokeWidth":1.2,"opacity":1},
 "encoding":{"x":{"field":"t","type":"quantitative","axis":null},"y":{"field":"y","type":"quantitative","axis":null}}},
{"data":{"name":"curves"},"transform":[{"filter":"datum.s=='P'"}],
 "mark":{"type":"line","color":"#000000","strokeWidth":2,"strokeDash":[6,3,2,3],"interpolate":"monotone"},
 "encoding":{"x":{"field":"t","type":"quantitative","axis":null},"y":{"field":"y","type":"quantitative","axis":null}}},
{"data":{"name":"curves"},"transform":[{"filter":"datum.s=='K'"}],
 "mark":{"type":"line","color":"#0000ff","strokeWidth":1.2},
 "encoding":{"x":{"field":"t","type":"quantitative","axis":null},"y":{"field":"y","type":"quantitative","axis":null}}},
{"data":{"name":"curves"},"transform":[{"filter":"datum.s=='K' && datum.t<=5.21"}],
 "mark":{"type":"point","shape":"M-1,0H1M0,-1V1M-0.7,-0.7L0.7,0.7M-0.7,0.7L0.7,-0.7","filled":false,"color":"#0000ff","size":80,"strokeWidth":1.2,"opacity":1},
 "encoding":{"x":{"field":"t","type":"quantitative","axis":null},"y":{"field":"y","type":"quantitative","axis":null}}},
{"data":{"name":"curves"},"transform":[{"filter":"datum.s=='R'"}],
 "mark":{"type":"line","color":"#ff0000","strokeWidth":1},
 "encoding":{"x":{"field":"t","type":"quantitative","axis":null},"y":{"field":"y","type":"quantitative","axis":null}}},
{"data":{"name":"curves"},"transform":[{"filter":"datum.s=='R' && datum.t<=2.96"}],
 "mark":{"type":"point","shape":"circle","filled":false,"color":"#ff0000","size":95,"strokeWidth":1,"opacity":1},
 "encoding":{"x":{"field":"t","type":"quantitative","axis":null},"y":{"field":"y","type":"quantitative","axis":null}}},
{"data":{"name":"ss"},
 "mark":{"type":"rule","strokeWidth":1.5,"opacity":0.6},
 "encoding":{"y":{"field":"y","type":"quantitative","axis":null},
  "stroke":{"field":"k","type":"nominal","scale":{"domain":["a","b","c","d"],"range":["#777777","#666666","#000000","#999999"]},"legend":null}}},
{"data":{"values":[{}]},
 "mark":{"type":"rect","fill":"white","stroke":"black","strokeWidth":1.5},
 "encoding":{"x":{"datum":1.88,"type":"quantitative","axis":null},"x2":{"datum":7.91},"y":{"datum":0.657,"type":"quantitative","axis":null},"y2":{"datum":0.07}}},
{"data":{"name":"curves"},"transform":[{"filter":"false"}],
 "mark":{"type":"point","filled":false,"strokeWidth":1.2,"opacity":1},
 "encoding":{"x":{"field":"t","type":"quantitative","axis":null},"y":{"field":"y","type":"quantitative","axis":null},
  "color":{"field":"s","type":"nominal",
   "scale":{"domain":["Original Upper limit TF","Bandyopadhyay (1994)","Bandyopadhyay (1997)","Yuri & Dolgin (2003)","G.V.K. R. Sastry (2000)","Chuan-qing and Yang (2010)","Pratheep (2013)","Siva Kumar (2015)","ROIM (Proposed method MSA)"],
    "range":["#ff0000","#33cc33","#0000ff","#20c4c4","#cc22cc","#cccc00","#888888","#0000ff","#ff0000"]},
   "legend":{"orient":"none","legendX":273,"legendY":162,"direction":"vertical","title":null,"labelFont":"Liberation Sans","labelFontSize":19,"labelFontWeight":"bold","labelColor":"black","labelLimit":600,"symbolSize":9216,"symbolStrokeWidth":1.2,"clipHeight":20,"rowPadding":18.6,"labelOffset":11,"padding":0,"symbolOffset":0}},
  "shape":{"field":"s","type":"nominal",
   "scale":{"domain":["Original Upper limit TF","Bandyopadhyay (1994)","Bandyopadhyay (1997)","Yuri & Dolgin (2003)","G.V.K. R. Sastry (2000)","Chuan-qing and Yang (2010)","Pratheep (2013)","Siva Kumar (2015)","ROIM (Proposed method MSA)"],
    "range":["M-0.9375,0H0.9375","M-0.9375,0H0.9375",
     "M-0.99,0A0.052,0.052,0,1,0,-0.885,0A0.052,0.052,0,1,0,-0.99,0ZM-0.99,0H-0.885M-0.9375,-0.052V0.052M0.885,0A0.052,0.052,0,1,0,0.99,0A0.052,0.052,0,1,0,0.885,0ZM0.885,0H0.99M0.9375,-0.052V0.052",
     "M-1.0275,0H-0.8475M-0.9375,-0.09V0.09M-1.0015,-0.064L-0.8735,0.064M-1.0015,0.064L-0.8735,-0.064M0.8475,0H1.0275M0.9375,-0.09V0.09M0.8735,-0.064L1.0015,0.064M0.8735,0.064L1.0015,-0.064",
     "M-1.0275,0H-0.8475M-0.9375,-0.09V0.09M0.8475,0H1.0275M0.9375,-0.09V0.09",
     "M-0.9375,-0.11L-1.0475,0.08L-0.8275,0.08ZM0.9375,-0.11L0.8275,0.08L1.0475,0.08Z",
     "M-0.9375,0H0.9375",
     "M-0.9375,0H0.9375M-1.0275,0H-0.8475M-0.9375,-0.09V0.09M-1.0015,-0.064L-0.8735,0.064M-1.0015,0.064L-0.8735,-0.064M0.8475,0H1.0275M0.9375,-0.09V0.09M0.8735,-0.064L1.0015,0.064M0.8735,0.064L1.0015,-0.064",
     "M-0.8335,0H0.8335M-1.0415,0A0.104,0.104,0,1,0,-0.8335,0A0.104,0.104,0,1,0,-1.0415,0M0.8335,0A0.104,0.104,0,1,0,1.0415,0A0.104,0.104,0,1,0,0.8335,0"]},
   "legend":{"orient":"none","legendX":273,"legendY":162,"direction":"vertical","title":null,"labelFont":"Liberation Sans","labelFontSize":19,"labelFontWeight":"bold","labelColor":"black","labelLimit":600,"symbolSize":9216,"symbolStrokeWidth":1.2,"clipHeight":20,"rowPadding":18.6,"labelOffset":11,"padding":0,"symbolOffset":0}}}}
]
}
